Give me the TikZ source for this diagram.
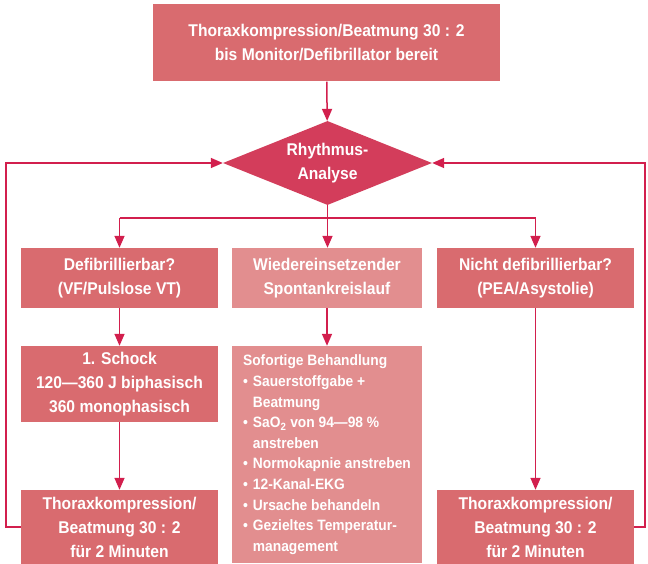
\documentclass[tikz,border=0pt]{standalone}
\usepackage{fontspec}
\setmainfont{Liberation Sans}[FakeStretch=0.92]
\usetikzlibrary{shapes.geometric,arrows.meta}
\definecolor{boxc}{HTML}{D96B6F}
\definecolor{lightc}{HTML}{E28E8F}
\definecolor{diac}{HTML}{D33D5B}
\definecolor{linec}{HTML}{D21F4D}
\tikzset{
  boxnode/.style={rectangle, fill=boxc, text=white, font=\bfseries\fontsize{17}{24}\selectfont, align=center, inner sep=0pt},
  lightbox/.style={boxnode, fill=lightc},
  conn/.style={draw=linec, line width=1.5pt},
  arr/.style={conn, -{Triangle[width=10pt,length=12pt]}},
}
\begin{document}
\begin{tikzpicture}[x=1pt,y=-1pt]
\useasboundingbox (0,0) rectangle (648,564);
\node[boxnode, minimum width=347pt, minimum height=77pt] (top) at (326.5,43) {Thoraxkompression/Beatmung 30 : 2\\bis Monitor/Defibrillator bereit};
\node[diamond, fill=diac, text=white, font=\bfseries\fontsize{17}{24}\selectfont, align=center, inner sep=0pt, minimum width=209pt, minimum height=84pt, aspect=2.49] (dia) at (327.5,163) {Rhythmus-\\Analyse};
\node[boxnode, minimum width=197pt, minimum height=60pt] (defib) at (119.5,278) {Defibrillierbar?\\(VF/Pulslose VT)};
\node[lightbox, minimum width=190pt, minimum height=60pt] (rosc) at (327,278) {Wiedereinsetzender\\Spontankreislauf};
\node[boxnode, minimum width=197pt, minimum height=60pt] (nodef) at (535.5,278) {Nicht defibrillierbar?\\(PEA/Asystolie)};
\node[boxnode, minimum width=197pt, minimum height=76pt] (shock) at (119.5,384) {1. Schock\\120---360 J biphasisch\\360 monophasisch};
\node[lightbox, minimum width=190pt, minimum height=217pt, font=\bfseries\fontsize{15}{20.6}\selectfont, align=left] (care) at (327,454.5) {%
\begin{tabular}{@{}l@{\hspace{5pt}}l@{}}
\multicolumn{2}{@{}l@{}}{Sofortige Behandlung}\\
•&Sauerstoffgabe +\\
&Beatmung\\
•&SaO\textsubscript{2} von 94---98 \%\\
&anstreben\\
•&Normokapnie anstreben\\
•&12-Kanal-EKG\\
•&Ursache behandeln\\
•&Gezieltes Temperatur-\\
&management
\end{tabular}};
\node[boxnode, minimum width=197pt, minimum height=74pt] (cprl) at (119.5,527) {Thoraxkompression/\\Beatmung 30 : 2\\für 2 Minuten};
\node[boxnode, minimum width=197pt, minimum height=74pt] (cprr) at (535.5,527) {Thoraxkompression/\\Beatmung 30 : 2\\für 2 Minuten};
\coordinate (bl) at (119.5,218);
\coordinate (bm) at (327.5,218);
\coordinate (br) at (535.5,218);
\coordinate (ll) at (6,527);
\coordinate (lu) at (6,163);
\coordinate (rl) at (645,527);
\coordinate (ru) at (645,163);
\draw[arr] (top) -- (dia);
\draw[conn] (dia.south) -- (bm);
\draw[conn] (bl) -- (br);
\draw[arr] (bl) -- (defib);
\draw[arr] (bm) -- (rosc.north -| bm);
\draw[arr] (br) -- (nodef);
\draw[arr] (defib) -- (shock);
\draw[arr] (shock) -- (cprl);
\draw[arr] (rosc) -- (care);
\draw[arr] (nodef) -- (cprr);
\draw[arr] (cprl.west) -- (ll) -- (lu) -- (dia.west);
\draw[arr] (cprr.east) -- (rl) -- (ru) -- (dia.east);
\end{tikzpicture}
\end{document}
